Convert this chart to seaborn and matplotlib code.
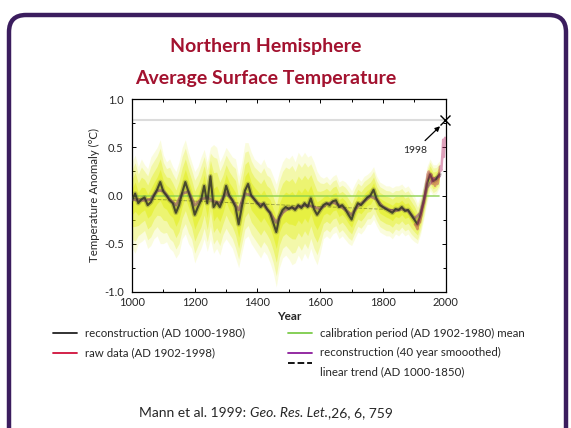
import numpy as np
import pandas as pd
import seaborn as sns
import matplotlib
matplotlib.use("Agg")
import matplotlib.pyplot as plt
from matplotlib.lines import Line2D
from matplotlib.patches import FancyBboxPatch
from matplotlib.ticker import MultipleLocator

# ---------------- data ----------------
rec_years = list(range(1000, 1981, 10))
rec_values = [
    -0.05, 0.02, -0.08, -0.04, -0.02, -0.10, -0.07, 0.00, 0.06, 0.14,
    0.04, 0.00, -0.05, -0.08, -0.18, -0.10, 0.03, 0.14, 0.04, -0.06,
    -0.20, -0.12, -0.05, 0.10, -0.08, 0.20, -0.12, -0.07, -0.12, -0.04,
    0.10, 0.00, -0.05, -0.12, -0.30, -0.12, 0.05, 0.12, 0.00, -0.04,
    -0.08, -0.12, -0.08, -0.14, -0.18, -0.28, -0.38, -0.22, -0.15, -0.12,
    -0.14, -0.12, -0.15, -0.10, -0.13, -0.08, -0.12, -0.03, -0.14, -0.20,
    -0.15, -0.10, -0.08, -0.10, -0.06, -0.05, -0.12, -0.10, -0.14, -0.20,
    -0.25, -0.15, -0.08, -0.10, -0.06, -0.02, 0.00, 0.06, -0.04, -0.10,
    -0.12, -0.14, -0.16, -0.18, -0.14, -0.15, -0.12, -0.16, -0.15, -0.20,
    -0.25, -0.30, -0.20, -0.06, 0.12, 0.22, 0.15, 0.17, 0.22,
]
band_upper = [
    0.35, 0.42, 0.30, 0.38, 0.32, 0.28, 0.40, 0.45, 0.50, 0.58,
    0.42, 0.35, 0.38, 0.30, 0.25, 0.35, 0.50, 0.58, 0.45, 0.35,
    0.25, 0.30, 0.40, 0.48, 0.35, 0.50, 0.53, 0.50, 0.35, 0.42,
    0.50, 0.45, 0.40, 0.38, 0.20, 0.35, 0.55, 0.55, 0.45, 0.38,
    0.35, 0.32, 0.38, 0.30, 0.28, 0.20, 0.12, 0.25, 0.35, 0.40,
    0.38, 0.42, 0.35, 0.45, 0.40, 0.45, 0.40, 0.42, 0.35, 0.25,
    0.20, 0.18, 0.20, 0.16, 0.20, 0.22, 0.14, 0.16, 0.14, 0.10,
    0.05, 0.12, 0.18, 0.15, 0.20, 0.22, 0.25, 0.30, 0.20, 0.14,
    0.12, 0.10, 0.10, 0.08, 0.10, 0.10, 0.12, 0.08, 0.10, 0.05,
    0.00, -0.08, 0.00, 0.12, 0.30, 0.38, 0.32, 0.32, 0.36,
]
band_lower = [
    -0.55, -0.60, -0.50, -0.48, -0.45, -0.55, -0.52, -0.45, -0.42, -0.50,
    -0.50, -0.48, -0.55, -0.58, -0.65, -0.60, -0.45, -0.40, -0.50, -0.55,
    -0.70, -0.62, -0.55, -0.45, -0.58, -0.45, -0.60, -0.55, -0.62, -0.50,
    -0.45, -0.50, -0.55, -0.65, -0.75, -0.60, -0.45, -0.42, -0.50, -0.55,
    -0.60, -0.65, -0.58, -0.62, -0.70, -0.80, -0.95, -0.75, -0.65, -0.62,
    -0.66, -0.72, -0.70, -0.62, -0.68, -0.60, -0.66, -0.55, -0.65, -0.72,
    -0.60, -0.45, -0.42, -0.45, -0.40, -0.38, -0.45, -0.42, -0.46, -0.50,
    -0.52, -0.45, -0.38, -0.40, -0.36, -0.30, -0.30, -0.25, -0.32, -0.38,
    -0.40, -0.42, -0.42, -0.45, -0.40, -0.42, -0.38, -0.42, -0.40, -0.45,
    -0.48, -0.50, -0.40, -0.25, -0.08, 0.05, 0.00, 0.02, 0.08,
]
smooth_years = list(range(1000, 1981, 20))
smooth_values = [
    -0.04, -0.05, -0.05, -0.04, 0.05, 0.05, -0.04, -0.10, 0.02, 0.04,
    -0.10, -0.04, -0.02, -0.06, -0.08, 0.03, -0.05, -0.15, 0.02, 0.00,
    -0.08, -0.10, -0.18, -0.28, -0.18, -0.13, -0.13, -0.11, -0.10, -0.12,
    -0.14, -0.09, -0.07, -0.10, -0.15, -0.20, -0.11, -0.06, -0.01, -0.04,
    -0.12, -0.15, -0.16, -0.14, -0.16, -0.24, -0.18, 0.08, 0.17, 0.20,
]
raw_years = [1902, 1906, 1910, 1914, 1918, 1922, 1926, 1930, 1934, 1938,
             1942, 1946, 1950, 1954, 1958, 1962, 1966, 1970, 1974, 1978,
             1982, 1986, 1990, 1992, 1994, 1996, 1998]
raw_values = [-0.30, -0.32, -0.35, -0.25, -0.28, -0.20, -0.12, -0.08, 0.00, 0.10,
              0.22, 0.25, 0.18, 0.22, 0.12, 0.18, 0.10, 0.15, 0.12, 0.20,
              0.30, 0.26, 0.45, 0.58, 0.40, 0.52, 0.60]
calib_years = [1000, 1980]
calib_values = [0.0, 0.0]
trend_years = [1000, 1850]
trend_values = [-0.03, -0.15]
peak_year = 1998
peak_value = 0.78

title_lines = ["Northern Hemisphere", "Average Surface Temperature"]
legend_labels = ["reconstruction (AD 1000-1980)", "raw data (AD 1902-1998)",
                 "calibration period (AD 1902-1980) mean",
                 "reconstruction (40 year smoooothed)".replace("oooo", "ooo"),
                 "linear trend (AD 1000-1850)"]
x_ticks = [1000, 1200, 1400, 1600, 1800, 2000]
y_ticks = [-1.0, -0.5, 0.0, 0.5, 1.0]

# ---------------- styling ----------------
sns.set_theme(style="white")
plt.rcParams["font.family"] = ["Lato", "DejaVu Sans"]

W, H = 571, 428
fig = plt.figure(figsize=(W / 100, H / 100), dpi=100)
fig.patch.set_facecolor("white")

def fx(x):
    return x / W

def fy(y):
    return 1 - y / H

# rounded purple frame
bg = fig.add_axes([0, 0, 1, 1], zorder=-5)
bg.set_xlim(0, W)
bg.set_ylim(H, 0)
bg.axis("off")
bg.add_patch(FancyBboxPatch((9, 15), 557, 440,
                            boxstyle="round,pad=0,rounding_size=17",
                            fc="white", ec="#3b1d5e", lw=3.2))

# main axes
ax = fig.add_axes([132 / W, 1 - 291.7 / H, 313.7 / W, 192.4 / H])
ax.set_facecolor("white")

rec = pd.DataFrame({"year": rec_years, "value": rec_values,
                    "hi": band_upper, "lo": band_lower})
yr = rec["year"].to_numpy()
v = rec["value"].to_numpy()
hi = rec["hi"].to_numpy()
lo = rec["lo"].to_numpy()
yellow = "#e2ee14"
for frac, a in [(1.0, 0.14), (0.8, 0.25), (0.55, 0.38), (0.3, 0.5)]:
    ax.fill_between(yr, v - frac * (v - lo), v + frac * (hi - v),
                    color=yellow, alpha=a, lw=0, zorder=1)

# 1998 level line
ax.axhline(peak_value, color="#dcdcdc", lw=1.5, zorder=1.5)

sns.lineplot(x=calib_years, y=calib_values, ax=ax, color="#86cf4a", lw=1.2,
             alpha=0.8, zorder=2)
sns.lineplot(x=trend_years, y=trend_values, ax=ax, color="black", lw=0.7,
             ls="--", alpha=0.3, zorder=2.2)
sns.lineplot(x=smooth_years, y=smooth_values, ax=ax, color="#8a2a8f", lw=2.0,
             alpha=0.5, zorder=2.5)
sns.lineplot(x=rec_years, y=rec_values, ax=ax, color="#3a3a2c", lw=3.4,
             alpha=0.25, zorder=3)
sns.lineplot(x=rec_years, y=rec_values, ax=ax, color="#33332a", lw=1.5,
             alpha=0.85, zorder=3.1)
sns.lineplot(x=raw_years, y=raw_values, ax=ax, color="#b8306a", lw=1.8,
             alpha=0.45, zorder=3.3)

ax.plot([peak_year], [peak_value], marker="x", ms=7, mew=1.0, color="black",
        clip_on=False, zorder=5)
ax.annotate("1998", xy=(1982, 0.72), xytext=(1902, 0.47),
            ha="center", va="center", fontsize=7.5,
            arrowprops=dict(arrowstyle="-|>", color="black", lw=0.9,
                            mutation_scale=7, shrinkA=2, shrinkB=0))

ax.set_xlim(1000, 2000)
ax.set_ylim(-1.0, 1.0)
ax.set_xticks(x_ticks)
ax.set_yticks(y_ticks)
ax.set_yticklabels([f"{t:.1f}" for t in y_ticks])
ax.xaxis.set_minor_locator(MultipleLocator(100))
ax.yaxis.set_minor_locator(MultipleLocator(0.25))
ax.tick_params(axis="both", which="both", direction="in", top=True, right=True,
               bottom=True, left=True, color="black", width=0.7)
ax.tick_params(which="major", length=3, labelsize=8)
ax.tick_params(axis="x", which="major", pad=4)
ax.tick_params(axis="y", which="major", pad=6)
ax.tick_params(which="minor", length=2)
for s in ax.spines.values():
    s.set_color("black")
    s.set_linewidth(0.9)
ax.set_xlabel("Year", fontsize=8.5, fontweight="bold", labelpad=2)
ax.set_ylabel("Temperature Anomaly (°C)", fontsize=8.3, labelpad=3)
ax.grid(False)

# titles
title_color = "#a3122f"
fig.text(fx(266), fy(46.5), title_lines[0], ha="center", va="center",
         fontsize=14, fontweight="bold", color=title_color)
fig.text(fx(266), fy(78.3), title_lines[1], ha="center", va="center",
         fontsize=14, fontweight="bold", color=title_color)

# legend (manual two-column layout)
leg_fs = 8.3
entries = [
    (53, 77, 85, 333, "#222222", "-", legend_labels[0]),
    (53, 77, 85, 352.5, "#d0103a", "-", legend_labels[1]),
    (288, 312, 320, 333, "#7ccc4a", "-", legend_labels[2]),
    (288, 312, 320, 352.5, "#8b1a9b", "-", legend_labels[3]),
    (288, 312, 320, 372, "black", "--", legend_labels[4]),
]
for x0, x1, tx, y, c, ls, lab in entries:
    ly = y if ls == "-" else y - 9
    fig.add_artist(Line2D([fx(x0), fx(x1)], [fy(ly), fy(ly)], color=c,
                          ls=ls, lw=1.3, transform=fig.transFigure))
    fig.text(fx(tx), fy(y), lab, ha="left", va="center", fontsize=leg_fs)

# citation
cite_fs = 10
parts = [("Mann et al. 1999: ", "normal"), ("Geo. Res. Let.", "italic"),
         (",26, 6, 759", "normal")]
texts = [fig.text(0, fy(413), p, ha="left", va="center", fontsize=cite_fs,
                  style=st) for p, st in parts]
fig.canvas.draw()
r = fig.canvas.get_renderer()
widths = [t.get_window_extent(r).width for t in texts]
total = sum(widths)
x = 266 - total / 2
for i, t in enumerate(texts):
    t.set_x(fx(x))
    x += widths[i]

fig.savefig("out.png", dpi=100)
